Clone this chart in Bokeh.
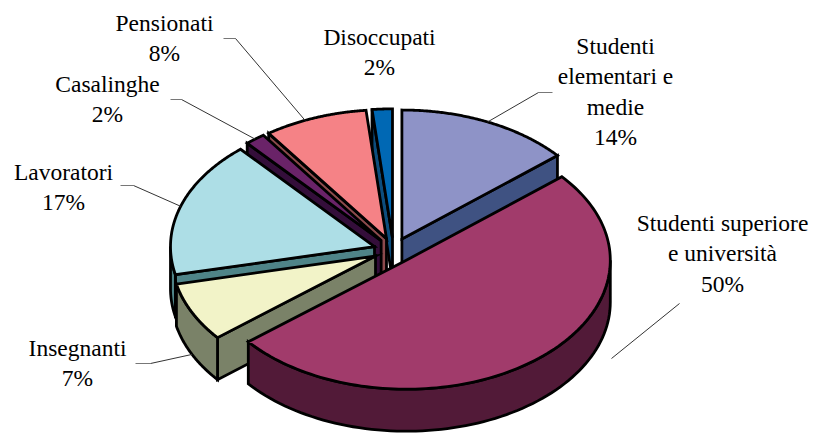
import numpy as np
from bokeh.plotting import figure
from bokeh.embed import file_html
from bokeh.resources import INLINE
from bokeh.core.properties import value

# --- data ---
categories = ["Studenti elementari e medie", "Studenti superiore e università", "Insegnanti",
              "Lavoratori", "Casalinghe", "Pensionati", "Disoccupati"]
shares = [13.8, 50.3, 7.4, 17.1, 1.6, 8.2, 1.6]
percent_labels = ["14%", "50%", "7%", "17%", "2%", "8%", "2%"]
top_colors = ["#8E93C7", "#A13B6B", "#F2F3C8", "#ADDEE6", "#6A2368", "#F58286", "#0068B4"]
wall_colors = ["#3F5282", "#521A38", "#7A8268", "#4F8488", "#340E3A", "#8C4A4C", "#0D4D7D"]
label_lines = [["Studenti", "elementari e", "medie", "14%"],
               ["Studenti superiore", "e università", "50%"],
               ["Insegnanti", "7%"], ["Lavoratori", "17%"],
               ["Casalinghe", "2%"], ["Pensionati", "8%"], ["Disoccupati", "2%"]]

# --- layout (page pixels) ---
CX, CY, A, B, DEPTH, EXPLODE = 393.0, 250.0, 204.0, 129.0, 42.0, 20.0
K = B / A
FONT_PX = 23.5
LINE_H = 30.5
label_xy = [(615, 45), (722, 222), (77, 347), (63, 171), (107, 83), (164, 22), (379, 36)]
leader_stub = [((552, 92), (538, 92)), ((679, 303), (679, 303)), ((135, 363), (150, 363)),
               ((120, 185), (133, 185)), ((170, 99), (181, 99)), ((223, 38), (235, 38))]
leader_nudge = [0, 0, 0, 0, 0, -3]
draw_order = [6, 5, 4, 3, 0, 2, 1]

p = figure(width=814, height=433, x_range=(0, 814), y_range=(433, 0), output_backend="svg",
           toolbar_location=None, min_border=0, outline_line_color=None,
           margin=(0, -8, -8, 0))
p.axis.visible = False
p.grid.visible = False

fr = np.array(shares) / sum(shares)
ends = np.cumsum(fr) * 360.0
starts = ends - fr * 360.0
mids = (starts + ends) / 2


def rim(cx, cy, t):
    r = np.radians(t)
    return cx + A * np.sin(r), cy - B * np.cos(r)


def centre(i):
    r = np.radians(mids[i])
    return CX + EXPLODE * np.sin(r), CY - EXPLODE * K * np.cos(r)


STYLE = dict(line_color="black", line_width=2.8, line_join="miter")
for i in draw_order:
    cx, cy = centre(i)
    s, e = starts[i], ends[i]
    # cut faces that face the viewer
    for t, seen in ((s, np.sin(np.radians(s)) < 0), (e, np.sin(np.radians(e)) > 0)):
        if seen:
            ox, oy = rim(cx, cy, t)
            p.patch([cx, ox, ox, cx], [cy, oy, oy + DEPTH, cy + DEPTH], fill_color=wall_colors[i], **STYLE)
    # outer wall
    a0, a1 = max(s, 90.0), min(e, 270.0)
    if a1 > a0:
        ts = np.linspace(a0, a1, 80)
        xs, ys = rim(cx, cy, ts)
        p.patch(np.r_[xs, xs[::-1]], np.r_[ys, ys[::-1] + DEPTH], fill_color=wall_colors[i], **STYLE)
    # top face
    ts = np.linspace(s, e, 120)
    xs, ys = rim(cx, cy, ts)
    p.patch(np.r_[cx, xs], np.r_[cy, ys], fill_color=top_colors[i], **STYLE)

# leader lines
for i, (a, b) in enumerate(leader_stub):
    cx, cy = centre(i)
    ex, ey = rim(cx, cy, mids[i] + leader_nudge[i])
    if i == 2:
        ey += DEPTH
    if i == 1:
        ex, ey = 611, 358
    p.line([a[0], b[0]], [a[1], b[1]], line_color="#777777", line_width=1)
    p.line([b[0], ex], [b[1], ey], line_color="#333333", line_width=1)

# labels
for (x, y), lines in zip(label_xy, label_lines):
    for j, t in enumerate(lines):
        p.text([x], [y + j * LINE_H], text=[t], text_align="center", text_baseline="middle",
               text_font=value("Liberation Serif"), text_font_size=f"{FONT_PX}px", text_color="black")

open("out.html", "w").write(file_html(p, INLINE))
